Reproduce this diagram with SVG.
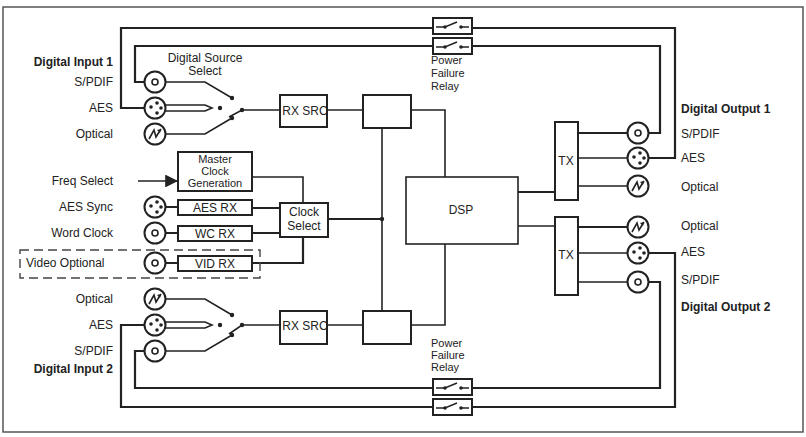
<svg xmlns="http://www.w3.org/2000/svg" width="806" height="437" viewBox="0 0 806 437">
<style>
text{font-family:"Liberation Sans",Arial,sans-serif;font-size:12px;fill:#222}
.b{font-weight:bold}
.r{text-anchor:end}
.m{text-anchor:middle}
.s{font-size:11px}
.w{fill:none;stroke:#222;stroke-width:1.6}
.t{fill:none;stroke:#222;stroke-width:2.2}
.bx{fill:#fff;stroke:#222;stroke-width:2}
.c{fill:#fff;stroke:#222;stroke-width:2}
.d{fill:#222}
</style>
<defs>
<g id="bnc"><circle r="10.5" class="c"/><circle r="3" fill="none" stroke="#222" stroke-width="1.6"/></g>
<g id="xlr"><circle r="10.5" class="c"/><circle cx="-4" cy="-1" r="1.8" class="d"/><circle cx="2" cy="-5" r="1.8" class="d"/><circle cx="2" cy="5" r="1.8" class="d"/><circle cx="6" cy="0" r="1.8" class="d"/></g>
<g id="opt"><circle r="10.5" class="c"/><path d="M-6,5 L-1,-4 L1,3 L6,-5" fill="none" stroke="#222" stroke-width="1.6"/><path d="M6,-5 L2,-4 L5,-1 Z" class="d"/></g>
<g id="relay"><rect x="0" y="0" width="39" height="16" class="bx"/><path d="M3,9 H12 L24,4 M28,9 H36" fill="none" stroke="#222" stroke-width="1.4"/><circle cx="12" cy="9" r="1.8" class="d"/><circle cx="28" cy="9" r="1.8" class="d"/></g>
<marker id="ar" viewBox="0 0 10 10" refX="10" refY="5" markerWidth="8" markerHeight="8" orient="auto"><path d="M0,0 L10,5 L0,10 Z" fill="#222"/></marker>
</defs>
<rect x="3" y="7" width="800" height="425" fill="#fff" stroke="#555" stroke-width="1.5"/>

<g id="connectors">
<path class="t" d="M145,108 H121 V28 H675 V158 H649"/>
<path class="t" d="M145,82 H135 V46 H660 V133 H649"/>
<path class="t" d="M145,325 H121 V407 H675 V253 H649"/>
<path class="t" d="M145,351 H135 V388 H660 V282 H649"/>
<path class="w" d="M166,82 H205 L232,98"/>
<path class="w" d="M164,105 H205 L212,108 L205,111 H164"/>
<path class="w" d="M166,134 H205 L232,118"/>
<path class="w" d="M229,117 L242,110 H280"/>
<path class="w" d="M327,110 H363"/>
<path class="w" d="M411,110 H445 V177"/>
<path class="w" d="M382,128 V311"/>
<path class="t" d="M328,219 H382"/>
<path class="w" d="M166,299 H205 L232,315"/>
<path class="w" d="M164,322 H205 L212,325 L205,328 H164"/>
<path class="w" d="M166,351 H205 L232,335"/>
<path class="w" d="M229,334 L242,325 H280"/>
<path class="w" d="M327,325 H363"/>
<path class="w" d="M411,325 H445 V244"/>
<path class="w" d="M138,181 H178" marker-end="url(#ar)"/>
<path class="w" d="M252,177 H303 V203"/>
<path class="t" d="M166,207 H178 M252,208 H280"/>
<path class="t" d="M166,233 H178 M252,233 H280"/>
<path class="t" d="M166,263 H178 M252,263 H303 V237"/>
<path class="t" d="M518,192 H555"/>
<path class="w" d="M518,226 H555"/>
<path class="t" d="M578,133 H627"/>
<path class="w" d="M578,158 H627 M578,186 H627"/>
<path class="t" d="M578,227 H627"/>
<path class="w" d="M578,253 H627 M578,282 H627"/>
<circle cx="232" cy="98" r="2.2" class="d"/><circle cx="220" cy="108" r="2.2" class="d"/><circle cx="232" cy="118" r="2.2" class="d"/><circle cx="242" cy="110" r="2.2" class="d"/>
<circle cx="232" cy="315" r="2.2" class="d"/><circle cx="220" cy="325" r="2.2" class="d"/><circle cx="232" cy="335" r="2.2" class="d"/><circle cx="242" cy="325" r="2.2" class="d"/>
<circle cx="382" cy="219" r="2.2" class="d"/>
</g>

<g id="frame-dashed"><rect x="20" y="250" width="240" height="28" fill="none" stroke="#444" stroke-width="1.4" stroke-dasharray="9,5"/></g>

<g id="relays">
<use href="#relay" x="433" y="18"/><use href="#relay" x="433" y="38"/>
<use href="#relay" x="433" y="379"/><use href="#relay" x="433" y="399"/>
<text x="431" y="64" class="s">Power</text><text x="431" y="77" class="s">Failure</text><text x="431" y="90" class="s">Relay</text>
<text x="431" y="347" class="s">Power</text><text x="431" y="359" class="s">Failure</text><text x="431" y="371" class="s">Relay</text>
</g>

<g id="input1">
<text x="113" y="66" class="b r">Digital Input 1</text>
<text x="113" y="86" class="r">S/PDIF</text><text x="113" y="112" class="r">AES</text><text x="113" y="138" class="r">Optical</text>
<use href="#bnc" x="155" y="82"/><use href="#xlr" x="155" y="108"/><use href="#opt" x="155" y="134"/>
<text x="205" y="62" class="m">Digital Source</text><text x="205" y="75" class="m">Select</text>
</g>
<g id="rxsrc1"><rect x="280" y="95" width="47" height="32" class="bx"/><text x="305" y="115" class="m">RX SRC</text></g>
<g id="block1"><rect x="363" y="95" width="48" height="33" class="bx"/></g>

<g id="clockin">
<text x="113" y="185" class="r">Freq Select</text>
<text x="113" y="211" class="r">AES Sync</text>
<text x="113" y="237" class="r">Word Clock</text>
<text x="26" y="267">Video Optional</text>
<use href="#xlr" x="155" y="207"/><use href="#bnc" x="155" y="233"/><use href="#bnc" x="155" y="263"/>
</g>
<g id="master"><rect x="178" y="152" width="74" height="39" class="bx"/><text x="215" y="163" class="m s">Master</text><text x="215" y="175" class="m s">Clock</text><text x="215" y="187" class="m s">Generation</text></g>
<g id="aesrx"><rect x="178" y="200" width="74" height="15" class="bx"/><text x="215" y="212" class="m">AES RX</text></g>
<g id="wcrx"><rect x="178" y="226" width="74" height="15" class="bx"/><text x="215" y="238" class="m">WC RX</text></g>
<g id="vidrx"><rect x="178" y="256" width="74" height="15" class="bx"/><text x="215" y="268" class="m">VID RX</text></g>
<g id="clocksel"><rect x="280" y="203" width="48" height="34" class="bx"/><text x="304" y="216" class="m">Clock</text><text x="304" y="230" class="m">Select</text></g>

<g id="input2">
<text x="113" y="303" class="r">Optical</text><text x="113" y="329" class="r">AES</text><text x="113" y="355" class="r">S/PDIF</text>
<text x="113" y="373" class="b r">Digital Input 2</text>
<use href="#opt" x="155" y="299"/><use href="#xlr" x="155" y="325"/><use href="#bnc" x="155" y="351"/>
</g>
<g id="rxsrc2"><rect x="280" y="311" width="47" height="33" class="bx"/><text x="305" y="330" class="m">RX SRC</text></g>
<g id="block2"><rect x="363" y="311" width="48" height="33" class="bx"/></g>

<g id="dsp"><rect x="406" y="177" width="112" height="67" fill="#fff" stroke="#222" stroke-width="1.6"/><text x="461" y="214" class="m">DSP</text></g>
<g id="tx1"><rect x="555" y="122" width="23" height="78" class="bx"/><text x="566" y="165" class="m">TX</text></g>
<g id="tx2"><rect x="555" y="217" width="23" height="78" class="bx"/><text x="566" y="259" class="m">TX</text></g>

<g id="output1">
<use href="#bnc" x="638" y="133"/><use href="#xlr" x="638" y="158"/><use href="#opt" x="638" y="186"/>
<text x="681" y="113" class="b">Digital Output 1</text>
<text x="681" y="138">S/PDIF</text><text x="681" y="162">AES</text><text x="681" y="191">Optical</text>
</g>
<g id="output2">
<use href="#opt" x="638" y="227"/><use href="#xlr" x="638" y="253"/><use href="#bnc" x="638" y="282"/>
<text x="681" y="230">Optical</text><text x="681" y="256">AES</text><text x="681" y="284">S/PDIF</text>
<text x="681" y="311" class="b">Digital Output 2</text>
</g>
</svg>
